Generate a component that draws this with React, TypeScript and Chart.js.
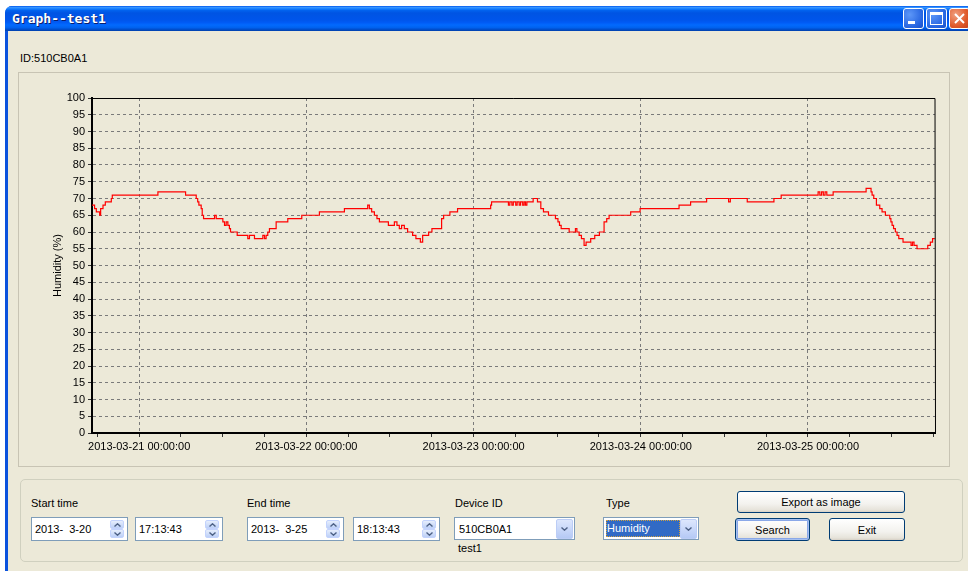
import React, { useEffect, useRef } from 'react';
import { Chart, registerables } from 'chart.js';

Chart.register(...registerables);

// Hours relative to 2013-03-21 00:00:00, value = humidity (%) from that moment on
const hours = [
  -6.77, -6.40, -6.15, -5.67, -5.53, -5.19, -4.86, -4.00, -3.86,
  2.69, 6.66, 8.19, 8.40, 8.57, 8.90, 9.05, 9.24,
  10.82, 11.06, 12.01, 12.25, 12.49, 12.73, 12.95, 13.11,
  14.07, 15.59, 15.83, 16.55, 17.75, 17.99, 18.22, 18.46, 18.70,
  19.66, 21.33, 23.34, 25.87, 29.46, 32.80, 33.04, 33.37, 33.76, 34.13, 34.48,
  35.77, 36.63, 37.00, 37.34, 37.67, 38.06, 38.53, 39.25, 39.72, 40.36, 40.69, 41.55, 42.02, 43.41, 43.70, 44.60, 45.70, 50.45, 50.58,
  53.00, 53.20, 53.50, 53.70, 54.05, 54.25, 54.55, 54.75, 55.05, 55.25, 55.45, 55.65,
  56.55, 57.17, 57.65, 58.03, 58.75, 59.75, 60.11, 60.33, 60.57, 61.72, 62.62, 62.83, 63.15, 63.48, 63.86, 64.15, 64.81, 65.39, 66.06, 66.73, 67.11, 67.45, 70.55, 71.90, 77.49, 79.15, 81.45,
  84.60, 84.85, 87.28, 91.11, 92.15, 97.45, 97.70, 97.95, 98.20, 98.45, 98.70, 99.61, 104.34, 105.05, 105.20, 105.44, 105.82, 106.30, 106.63, 107.11, 107.74, 107.90, 108.07, 108.28, 108.54, 108.78, 109.03, 109.64, 110.79, 111.00, 111.22, 111.65, 113.19, 113.56, 113.88, 114.20,
];
const humidity = [
  68, 67, 66, 65, 67, 68, 69, 70, 71,
  72, 71, 70, 69, 68, 67, 65, 64,
  65, 64, 63, 62, 63, 62, 61, 60,
  59, 58, 59, 58, 59, 58, 59, 60, 61,
  63, 64, 65, 66, 67, 68, 67, 66, 65, 64, 63,
  62, 63, 62, 61, 62, 61, 60, 59, 58, 57, 59, 60, 61, 64, 65, 66, 67, 68, 69,
  68, 69, 68, 69, 68, 69, 68, 69, 68, 69, 68, 69,
  70, 69, 67, 66, 65, 64, 63, 62, 61, 60, 61, 60, 59, 58, 56, 57, 58, 59, 60, 63, 64, 65, 66, 67, 68, 69, 70,
  69, 70, 69, 70, 71, 72, 71, 72, 71, 72, 71, 72, 73, 72, 71, 70, 68, 67, 66, 65, 64, 63, 62, 61, 60, 59, 58, 57, 56, 57, 56, 55, 56, 57, 58, 58,
];

const startHour = -6.771; // 2013-03-20 17:13:43
const endHour = 114.229; // 2013-03-25 18:13:43
const xTickHours = [-6, 0, 6, 12, 18, 24, 30, 36, 42, 48, 54, 60, 66, 72, 78, 84, 90, 96, 102, 108, 114];
const dayTickHours = [0, 24, 48, 72, 96];
const dayLabels = [
  '2013-03-21 00:00:00',
  '2013-03-22 00:00:00',
  '2013-03-23 00:00:00',
  '2013-03-24 00:00:00',
  '2013-03-25 00:00:00',
];

const UI_FONT = '11px "Liberation Sans", Arial, sans-serif';

function ChartView() {
  const ref = useRef<HTMLCanvasElement | null>(null);
  useEffect(() => {
    if (!ref.current) return;
    const framePlugin = {
      id: 'frame',
      afterDraw(chart: any) {
        const { ctx, chartArea } = chart;
        ctx.save();
        ctx.strokeStyle = '#000';
        ctx.lineWidth = 1;
        ctx.beginPath();
        ctx.moveTo(Math.round(chartArea.left), Math.round(chartArea.top) + 0.5);
        ctx.lineTo(Math.round(chartArea.right), Math.round(chartArea.top) + 0.5);
        ctx.lineTo(Math.round(chartArea.right) + 0.5, Math.round(chartArea.bottom));
        ctx.stroke();
        ctx.restore();
      },
    };
    const chart = new Chart(ref.current, {
      type: 'line',
      data: {
        datasets: [
          {
            label: 'Humidity',
            data: hours.map((h, i) => ({ x: h, y: humidity[i] })),
            borderColor: '#ff0000',
            borderWidth: 1.2,
            pointRadius: 0,
            stepped: true,
            fill: false,
          },
        ],
      },
      options: {
        animation: false,
        responsive: false,
        layout: { padding: { left: 0, top: 26, right: 15, bottom: 4 } },
        plugins: { legend: { display: false }, tooltip: { enabled: false } },
        scales: {
          x: {
            type: 'linear',
            min: startHour,
            max: endHour,
            afterBuildTicks: (scale: any) => {
              scale.ticks = xTickHours.map((v) => ({ value: v }));
            },
            afterFit: (scale: any) => {
              scale.height = 30;
            },
            ticks: {
              autoSkip: false,
              maxRotation: 0,
              minRotation: 0,
              padding: 3,
              color: '#000',
              font: { family: '"Liberation Sans", Arial, sans-serif', size: 11 },
              callback: (v: any) => {
                const i = dayTickHours.indexOf(Number(v));
                return i >= 0 ? dayLabels[i] : '';
              },
            },
            grid: {
              color: (c: any) =>
                c.tick && dayTickHours.indexOf(c.tick.value) >= 0 ? '#7a7a7a' : 'rgba(0,0,0,0)',
              lineWidth: 1,
              tickLength: 4,
              tickColor: '#333',
              tickWidth: 1,
            },
            border: { display: true, color: '#000', width: 2, dash: [3, 3] },
          },
          y: {
            type: 'linear',
            min: 0,
            max: 100,
            afterFit: (scale: any) => {
              scale.width = 74;
            },
            ticks: {
              stepSize: 5,
              padding: 3,
              color: '#000',
              font: { family: '"Liberation Sans", Arial, sans-serif', size: 11 },
            },
            title: {
              display: true,
              text: 'Humidity (%)',
              color: '#000',
              font: { family: '"Liberation Sans", Arial, sans-serif', size: 11 },
              padding: { top: 33, bottom: 0 },
            },
            grid: {
              color: '#7a7a7a',
              lineWidth: 1,
              tickLength: 4,
              tickColor: '#333',
              tickWidth: 1,
            },
            border: { display: true, color: '#000', width: 2, dash: [3, 3] },
          },
        },
      },
      plugins: [framePlugin],
    } as any);
    return () => chart.destroy();
  }, []);
  return <canvas ref={ref} width={932} height={395} style={{ display: 'block', width: 932, height: 395 }} />;
}

function Abs(props: { x: number; y: number; w?: number; h?: number; style?: React.CSSProperties; children?: React.ReactNode }) {
  const { x, y, w, h, style, children } = props;
  return (
    <div style={{ position: 'absolute', left: x, top: y, width: w, height: h, boxSizing: 'border-box', ...style }}>
      {children}
    </div>
  );
}

function Label({ x, y, text }: { x: number; y: number; text: string }) {
  return (
    <Abs x={x} y={y} style={{ font: UI_FONT, color: '#000', whiteSpace: 'pre', lineHeight: '14px' }}>
      {text}
    </Abs>
  );
}

function Chevron({ up }: { up: boolean }) {
  return (
    <svg width="7" height="4" viewBox="0 0 7 4" style={{ display: 'block' }}>
      <polyline
        points={up ? '0.5,3.5 3.5,0.8 6.5,3.5' : '0.5,0.5 3.5,3.2 6.5,0.5'}
        fill="none"
        stroke="#4d6185"
        strokeWidth="1.4"
      />
    </svg>
  );
}

const spinBtn: React.CSSProperties = {
  position: 'absolute',
  right: 3,
  width: 14,
  height: 9,
  background: 'linear-gradient(#e6eefc, #bdd0f7)',
  border: '1px solid #c3d3fd',
  borderRadius: 2,
  boxSizing: 'border-box',
  display: 'flex',
  alignItems: 'center',
  justifyContent: 'center',
};

function SpinBox({ x, y, w, text }: { x: number; y: number; w: number; text: string }) {
  return (
    <Abs x={x} y={y} w={w} h={24} style={{ border: '1px solid #7f9db9', background: '#fff' }}>
      <div style={{ position: 'absolute', left: 3, top: 4, font: UI_FONT, whiteSpace: 'pre', lineHeight: '14px' }}>{text}</div>
      <div style={{ ...spinBtn, top: 2 }}>
        <Chevron up={true} />
      </div>
      <div style={{ ...spinBtn, top: 11 }}>
        <Chevron up={false} />
      </div>
    </Abs>
  );
}

function DropBtn() {
  return (
    <div
      style={{
        position: 'absolute',
        right: 1,
        top: 1,
        width: 17,
        height: 20,
        background: 'linear-gradient(#dde7fd, #b5c9f5)',
        border: '1px solid #bccdf6',
        borderRadius: 2,
        boxSizing: 'border-box',
        display: 'flex',
        alignItems: 'center',
        justifyContent: 'center',
      }}
    >
      <Chevron up={false} />
    </div>
  );
}

function XPButton({ x, y, w, h, text, focused }: { x: number; y: number; w: number; h: number; text: string; focused?: boolean }) {
  return (
    <Abs
      x={x}
      y={y}
      w={w}
      h={h}
      style={{
        border: '1px solid #003c74',
        borderRadius: 3,
        background: 'linear-gradient(#ffffff, #f3f2ee 60%, #e6e3da 90%, #d6d0c5)',
        boxShadow: focused ? 'inset 0 0 0 1px #a6c0f0, inset 0 0 0 2px #8aa8e8' : 'none',
        font: UI_FONT,
        color: '#000',
        display: 'flex',
        alignItems: 'center',
        justifyContent: 'center',
      }}
    >
      {text}
    </Abs>
  );
}

export default function App() {
  return (
    <div style={{ position: 'fixed', left: 0, top: 0, width: 968, height: 571, background: '#fff', overflow: 'hidden' }}>
      {/* window frame */}
      <Abs x={5} y={6} w={975} h={570} style={{ background: '#0a52dd', borderTopLeftRadius: 7 }} />
      {/* title bar */}
      <Abs
        x={5}
        y={6}
        w={975}
        h={25}
        style={{
          borderTopLeftRadius: 7,
          background:
            'linear-gradient(#0058ee 0%, #3593ff 6%, #127dff 12%, #0262ee 18%, #0054e3 28%, #0055eb 56%, #005bf5 66%, #026afe 76%, #0062ef 86%, #0052d6 92%, #0040ab 100%)',
        }}
      />
      <Abs
        x={12}
        y={11}
        style={{
          font: 'bold 13px "DejaVu Sans Mono", monospace',
          color: '#fff',
          textShadow: '1px 1px 0 #0a1e6e',
          lineHeight: '16px',
          whiteSpace: 'pre',
        }}
      >
        Graph--test1
      </Abs>
      {/* minimize */}
      <Abs
        x={903}
        y={8}
        w={21}
        h={21}
        style={{ border: '1px solid #fff', borderRadius: 3, background: 'radial-gradient(circle at 30% 30%, #5d97f8, #2664e0 70%, #1c4fc4)' }}
      >
        <div style={{ position: 'absolute', left: 4, top: 12, width: 7, height: 3, background: '#fff' }} />
      </Abs>
      {/* maximize */}
      <Abs
        x={926}
        y={8}
        w={21}
        h={21}
        style={{ border: '1px solid #fff', borderRadius: 3, background: 'radial-gradient(circle at 30% 30%, #5d97f8, #2664e0 70%, #1c4fc4)' }}
      >
        <div style={{ position: 'absolute', left: 3, top: 3, width: 13, height: 13, border: '1px solid #fff', borderTopWidth: 3, boxSizing: 'border-box' }} />
      </Abs>
      {/* close */}
      <Abs
        x={949}
        y={8}
        w={21}
        h={21}
        style={{ border: '1px solid #fff', borderRadius: 3, background: 'radial-gradient(circle at 30% 30%, #f0a080, #e05a2b 60%, #c1401a)' }}
      >
        <svg width="19" height="19" style={{ position: 'absolute', left: 0, top: 0 }}>
          <line x1="5" y1="5" x2="14" y2="14" stroke="#fff" strokeWidth="2" />
          <line x1="14" y1="5" x2="5" y2="14" stroke="#fff" strokeWidth="2" />
        </svg>
      </Abs>
      {/* body */}
      <Abs x={8} y={31} w={970} h={545} style={{ background: '#ece9d8' }} />

      <Label x={20} y={51} text="ID:510CB0A1" />

      {/* chart panel */}
      <Abs x={18} y={72} w={932} h={395} style={{ border: '1px solid #c8c4b4' }} />
      <Abs x={18} y={72} w={932} h={395}>
        <ChartView />
      </Abs>

      {/* controls group */}
      <Abs x={20} y={479} w={943} h={83} style={{ border: '1px solid #d0d0bf', borderRadius: 5 }} />
      <Label x={31} y={496} text="Start time" />
      <SpinBox x={31} y={517} w={97} text="2013-  3-20" />
      <SpinBox x={135} y={517} w={88} text="17:13:43" />
      <Label x={247} y={496} text="End time" />
      <SpinBox x={247} y={517} w={97} text="2013-  3-25" />
      <SpinBox x={353} y={517} w={87} text="18:13:43" />

      <Label x={455} y={496} text="Device ID" />
      <Abs x={454} y={517} w={121} h={23} style={{ border: '1px solid #7f9db9', background: '#fff' }}>
        <div style={{ position: 'absolute', left: 4, top: 4, font: UI_FONT, lineHeight: '14px' }}>510CB0A1</div>
        <DropBtn />
      </Abs>
      <Label x={458} y={541} text="test1" />

      <Label x={606} y={496} text="Type" />
      <Abs x={603} y={517} w={96} h={23} style={{ border: '1px solid #7f9db9', background: '#fff' }}>
        <div
          style={{
            position: 'absolute',
            left: 2,
            top: 2,
            width: 74,
            height: 17,
            background: '#316ac5',
            outline: '1px dotted #d0a040',
            outlineOffset: -1,
            font: UI_FONT,
            color: '#fff',
            lineHeight: '17px',
            paddingLeft: 1,
            boxSizing: 'border-box',
          }}
        >
          Humidity
        </div>
        <DropBtn />
      </Abs>

      <XPButton x={737} y={491} w={168} h={22} text="Export as image" />
      <XPButton x={735} y={518} w={75} h={23} text="Search" focused />
      <XPButton x={829} y={518} w={76} h={23} text="Exit" />
    </div>
  );
}
